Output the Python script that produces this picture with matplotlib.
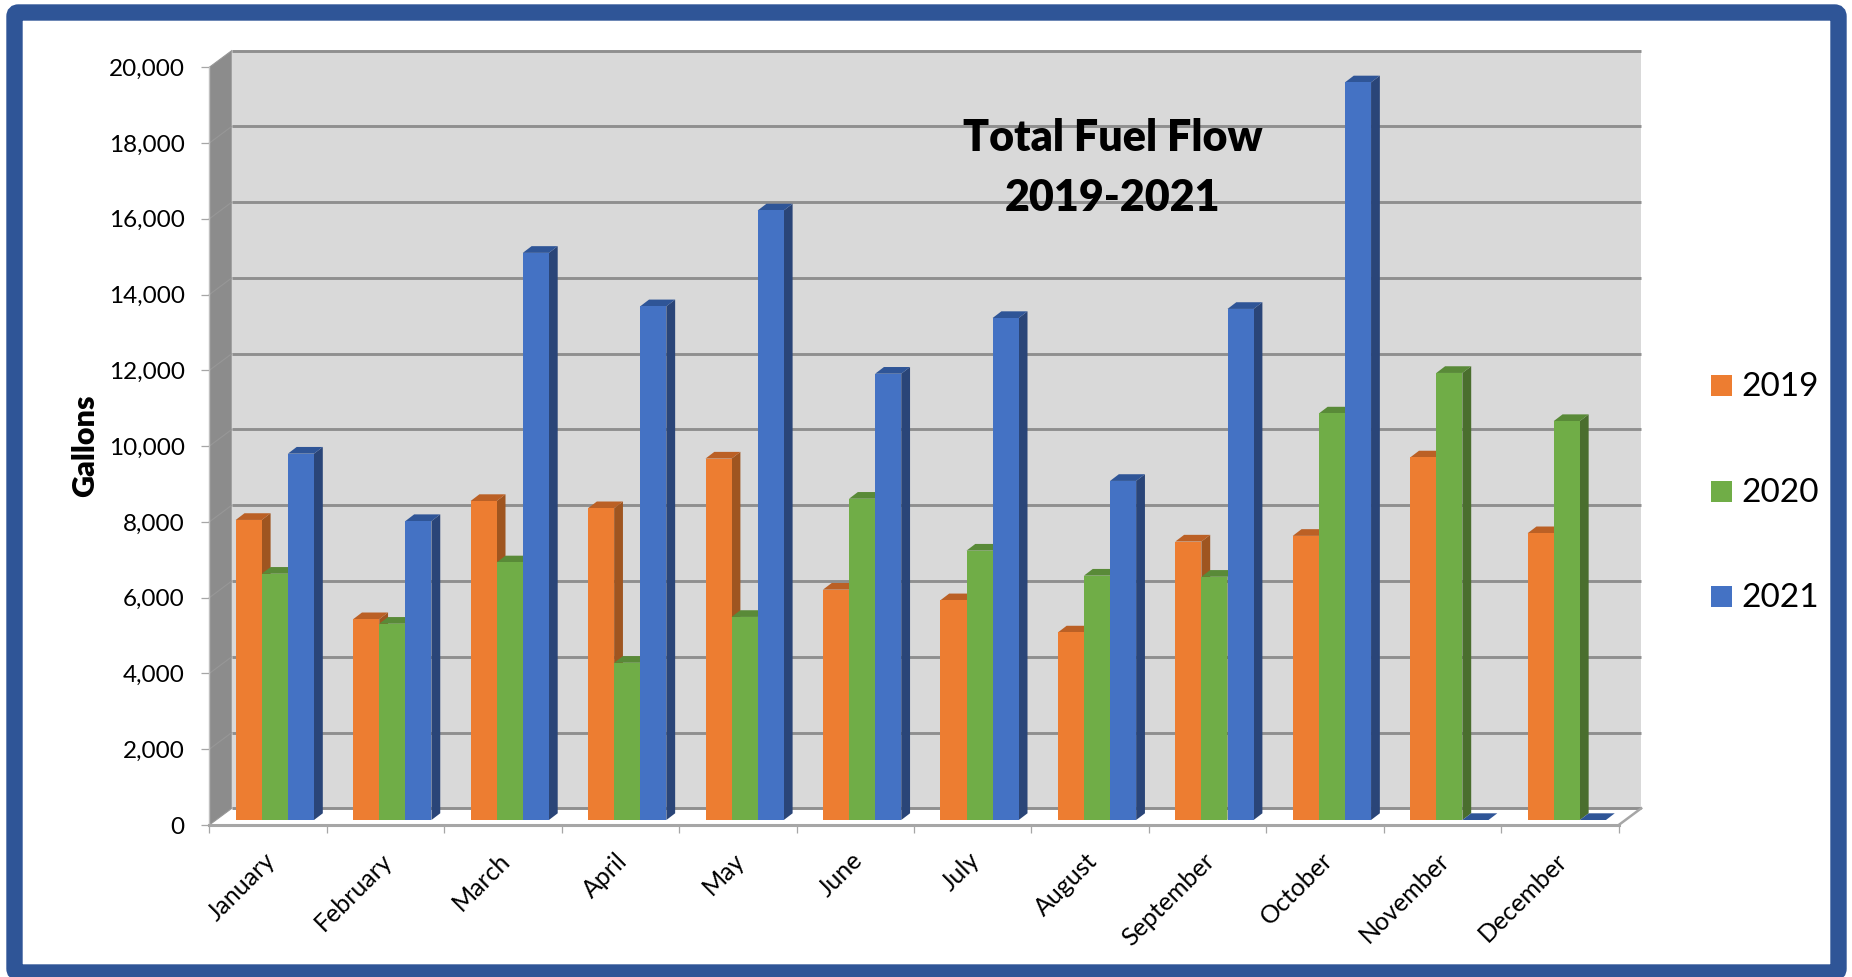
import numpy as np
import matplotlib
matplotlib.use("Agg")
import matplotlib.pyplot as plt
from matplotlib.patches import FancyBboxPatch, Rectangle

plt.rcParams["font.family"] = ["Lato", "DejaVu Sans"]

months = ["January", "February", "March", "April", "May", "June", "July",
          "August", "September", "October", "November", "December"]
gallons_2019 = [7920, 5300, 8420, 8230, 9540, 6080, 5800, 4950, 7350, 7500, 9570, 7570]
gallons_2020 = [6500, 5180, 6800, 4150, 5360, 8480, 7110, 6450, 6420, 10730, 11800, 10530]
gallons_2021 = [9670, 7890, 14970, 13560, 16090, 11780, 13250, 8950, 13490, 19470, 0, 0]
series_names = ["2019", "2020", "2021"]
y_ticks = list(range(0, 20001, 2000))

WIDTH, HEIGHT = 1852, 977
FRONT_COLORS = ["#ed7d31", "#70ad47", "#4472c4"]
SIDE_COLORS = ["#9f5520", "#4a6e2e", "#2a4578"]
TOP_COLORS = ["#bb6025", "#598a38", "#2f5597"]
FRAME_BLUE = "#2f5597"
GRID_GRAY = "#8f8f8f"

# axis plane in pixels of the picture
AX_LEFT, AX_RIGHT, AX_TOP, AX_BOTTOM = 209.3, 1618.7, 67.3, 825.0
PX_X = 12 / (AX_RIGHT - AX_LEFT)      # months per pixel
PX_Y = 20000 / (AX_BOTTOM - AX_TOP)   # gallons per pixel

WALL_DX, WALL_DY = 22.5 * PX_X, 16.7 * PX_Y
BAR_DX, BAR_DY = 8.8 * PX_X, 6.7 * PX_Y
BAR_START, BAR_W = 26.4 * PX_X, 26.1 * PX_X
BAR_BASE = 5 * PX_Y


def draw_frame(fig):
    # blue rounded frame and the legend live on a pixel layer
    bg = fig.add_axes([0, 0, 1, 1], zorder=0)
    bg.set_xlim(0, WIDTH)
    bg.set_ylim(HEIGHT, 0)
    bg.axis("off")
    bg.add_patch(FancyBboxPatch((14.5, 12.5), 1824, 960,
                                boxstyle="round,pad=0,rounding_size=4",
                                fc="white", ec=FRAME_BLUE, lw=11.8))
    for name, color, y in zip(series_names, FRONT_COLORS, [385.5, 491.5, 596.5]):
        bg.add_patch(Rectangle((1711, y - 10.5), 21, 21, fc=color, ec="none"))
        bg.text(1741, y - 1.5, name, fontsize=24, va="center_baseline", ha="left", color="black")


def draw_walls(ax):
    ax.fill([0, WALL_DX, WALL_DX, 0], [0, WALL_DY, 20000 + WALL_DY, 20000],
            color="#8c8c8c", lw=0, zorder=1, clip_on=False)
    ax.fill([WALL_DX, 12 + WALL_DX, 12 + WALL_DX, WALL_DX],
            [WALL_DY, WALL_DY, 20000 + WALL_DY, 20000 + WALL_DY],
            color="#d9d9d9", lw=0, zorder=1, clip_on=False)
    for v in y_ticks:
        ax.plot([WALL_DX, 12 + WALL_DX], [v + WALL_DY, v + WALL_DY],
                color=GRID_GRAY, lw=2.1, zorder=2, clip_on=False, solid_capstyle="butt")
        ax.plot([0, WALL_DX], [v, v + WALL_DY], color="#979797", lw=0.8, zorder=2, clip_on=False)
    # floor edge on the right
    ax.plot([12, 12 + WALL_DX], [0, WALL_DY], color="#a6a6a6", lw=1.8, zorder=2, clip_on=False)


def draw_bars(ax):
    series = [gallons_2019, gallons_2020, gallons_2021]
    for month in range(len(months)):
        for s, values in enumerate(series):
            left = month + BAR_START + s * BAR_W
            right = left + BAR_W
            top = values[month] + BAR_BASE
            z = 3 + s
            # side face, then top face, then the front through bar()
            if values[month] > 0:
                ax.fill([right, right + BAR_DX, right + BAR_DX, right],
                        [BAR_BASE, BAR_BASE + BAR_DY, top + BAR_DY, top],
                        color=SIDE_COLORS[s], lw=0, zorder=z, clip_on=False)
            ax.fill([left, left + BAR_DX, right + BAR_DX, right],
                    [top, top + BAR_DY, top + BAR_DY, top],
                    color=TOP_COLORS[s], lw=0, zorder=z, clip_on=False)
            ax.bar(left, values[month], width=BAR_W, bottom=BAR_BASE, align="edge",
                   color=FRONT_COLORS[s], lw=0, zorder=z)


def main():
    fig = plt.figure(figsize=(WIDTH / 100, HEIGHT / 100), dpi=100)
    draw_frame(fig)

    ax = fig.add_axes([AX_LEFT / WIDTH, 1 - AX_BOTTOM / HEIGHT,
                       (AX_RIGHT - AX_LEFT) / WIDTH, (AX_BOTTOM - AX_TOP) / HEIGHT], zorder=1)
    ax.patch.set_visible(False)
    ax.set_xlim(0, 12)
    ax.set_ylim(0, 20000)

    draw_walls(ax)
    draw_bars(ax)

    for side in ["top", "right"]:
        ax.spines[side].set_visible(False)
    ax.spines["left"].set_color("#bfbfbf")
    ax.spines["left"].set_linewidth(1)
    ax.spines["bottom"].set_color("#a6a6a6")
    ax.spines["bottom"].set_linewidth(2.2)

    ax.set_yticks(y_ticks)
    ax.set_yticklabels([f"{v:,}" for v in y_ticks], fontsize=17.5, color="black")
    ax.tick_params(axis="y", length=5.8, width=0.9, color="#a6a6a6", pad=12)

    # ticks on month boundaries, labels near the middle of each month
    ax.set_xticks(range(13))
    ax.set_xticklabels([])
    ax.tick_params(axis="x", which="major", length=5.8, width=0.9, color="#a6a6a6")
    ax.set_xticks(np.arange(12) + 0.46, minor=True)
    ax.set_xticklabels(months, minor=True, rotation=45, ha="right", va="top",
                       rotation_mode="anchor", fontsize=18, color="black")
    ax.tick_params(axis="x", which="minor", length=0, pad=17)

    ax.set_ylabel("Gallons", fontsize=22, fontweight="heavy", color="black")
    ax.yaxis.set_label_coords(-0.0785, 1 - (446 - AX_TOP) / (AX_BOTTOM - AX_TOP))

    ax.text(1113, 168, "Total Fuel Flow\n2019-2021", transform=fig.axes[0].transData,
            fontsize=31, fontweight="heavy", ha="center", va="center",
            linespacing=1.6, color="black", zorder=10)

    fig.savefig("out.png", dpi=100)
    plt.close(fig)


if __name__ == "__main__":
    main()
